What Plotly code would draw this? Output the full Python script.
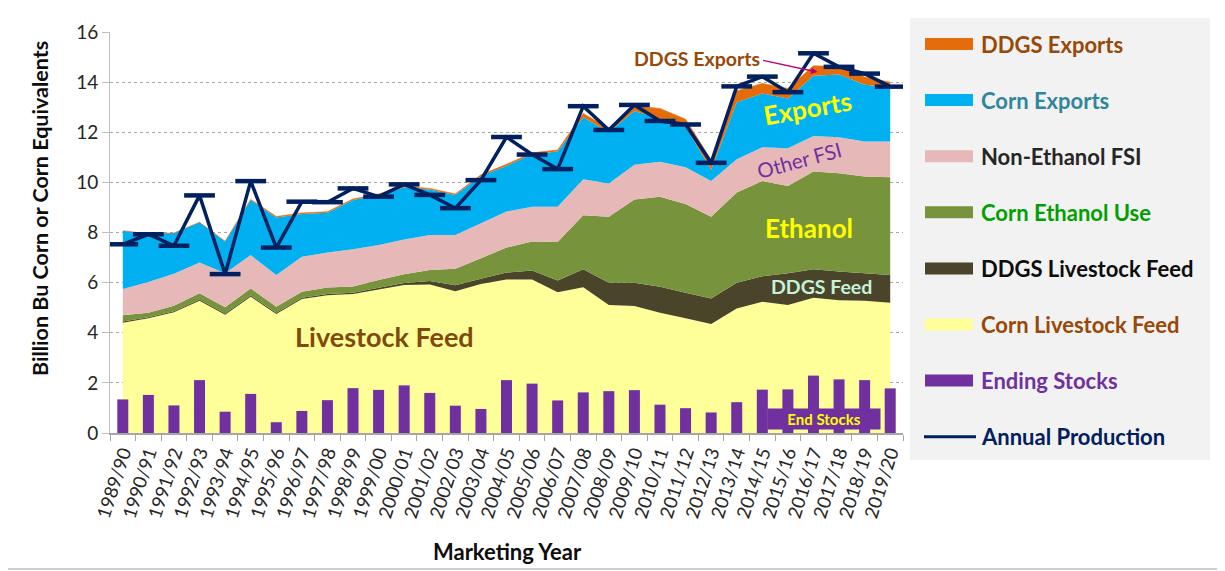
import plotly.graph_objects as go

# marketing years
years = ['1989/90', '1990/91', '1991/92', '1992/93', '1993/94', '1994/95', '1995/96',
         '1996/97', '1997/98', '1998/99', '1999/00', '2000/01', '2001/02', '2002/03',
         '2003/04', '2004/05', '2005/06', '2006/07', '2007/08', '2008/09', '2009/10',
         '2010/11', '2011/12', '2012/13', '2013/14', '2014/15', '2015/16', '2016/17',
         '2017/18', '2018/19', '2019/20']

# billion bushels corn or corn equivalents
corn_feed = [4.40, 4.58, 4.82, 5.28, 4.72, 5.44, 4.75, 5.35, 5.50, 5.55, 5.73, 5.91, 5.93, 5.66,
             5.95, 6.12, 6.12, 5.62, 5.82, 5.11, 5.07, 4.80, 4.58, 4.35, 4.97, 5.24, 5.11, 5.40,
             5.30, 5.28, 5.20]
ddgs_feed = [0.05, 0.04, 0.04, 0.05, 0.05, 0.05, 0.05, 0.05, 0.05, 0.05, 0.07, 0.08, 0.13, 0.24,
             0.20, 0.28, 0.36, 0.46, 0.71, 0.89, 0.93, 1.04, 1.02, 1.02, 1.03, 1.01, 1.26, 1.13,
             1.14, 1.09, 1.10]
ethanol = [0.25, 0.18, 0.22, 0.25, 0.25, 0.28, 0.24, 0.24, 0.26, 0.25, 0.30, 0.34, 0.44, 0.65,
           0.82, 1.00, 1.16, 1.54, 2.16, 2.63, 3.32, 3.59, 3.54, 3.26, 3.60, 3.80, 3.49, 3.90,
           3.92, 3.86, 3.90]
other_fsi = [1.05, 1.22, 1.27, 1.22, 1.35, 1.33, 1.26, 1.39, 1.39, 1.48, 1.40, 1.39, 1.40, 1.35,
             1.40, 1.44, 1.39, 1.41, 1.43, 1.33, 1.38, 1.39, 1.46, 1.42, 1.32, 1.35, 1.50, 1.42,
             1.44, 1.40, 1.43]
corn_exports = [2.32, 1.93, 1.63, 1.61, 1.27, 2.20, 2.30, 1.71, 1.59, 1.97, 2.00, 2.08, 1.82, 1.60,
                1.88, 1.81, 2.10, 2.20, 2.48, 2.04, 2.15, 1.70, 1.62, 0.45, 2.28, 2.15, 1.99, 2.40,
                2.50, 2.27, 2.17]
ddgs_exports = [0.00, 0.00, 0.00, 0.00, 0.01, 0.02, 0.04, 0.04, 0.04, 0.04, 0.04, 0.04, 0.04, 0.04,
                0.05, 0.07, 0.05, 0.06, 0.15, 0.16, 0.20, 0.43, 0.30, 0.40, 0.45, 0.40, 0.40, 0.40,
                0.32, 0.30, 0.20]
ending_stocks = [1.34, 1.52, 1.10, 2.11, 0.85, 1.56, 0.43, 0.88, 1.31, 1.79, 1.72, 1.90, 1.60, 1.09,
                 0.96, 2.11, 1.97, 1.30, 1.62, 1.67, 1.71, 1.13, 0.99, 0.82, 1.23, 1.73, 1.74, 2.29,
                 2.14, 2.11, 1.78]
production = [7.53, 7.93, 7.47, 9.48, 6.34, 10.05, 7.40, 9.23, 9.21, 9.76, 9.43, 9.92, 9.50, 8.97,
              10.09, 11.81, 11.11, 10.53, 13.04, 12.09, 13.09, 12.45, 12.31, 10.78, 13.83, 14.22,
              13.60, 15.15, 14.61, 14.34, 13.82]

OFF = 8  # page body margin
W, H = 1225 - OFF, 571 - OFF
L, R, T, B = 110, 903, 32, 433  # plot area in window pixels


def px(x, y):
    # window pixel position -> paper coords
    return (x - L) / (R - L), (B - y) / (B - T)


fig = go.Figure()

areas = [
    ('Corn Livestock Feed', corn_feed, '#FFFF99'),
    ('DDGS Livestock Feed', ddgs_feed, '#4A452A'),
    ('Corn Ethanol Use', ethanol, '#77933C'),
    ('Non-Ethanol FSI', other_fsi, '#E6B9B8'),
    ('Corn Exports', corn_exports, '#00B0F0'),
    ('DDGS Exports', ddgs_exports, '#E46C0A'),
]
for name, vals, col in areas:
    fig.add_trace(go.Scatter(x=years, y=vals, name=name, mode='lines',
                             stackgroup='use', fillcolor=col,
                             line=dict(width=0.6 if name == 'DDGS Exports' else 0, color=col)))

# bars and production on an overlaid axis so they sit on top of the areas
fig.add_trace(go.Bar(x=years, y=ending_stocks, name='Ending Stocks', yaxis='y2',
                     marker=dict(color='#7030A0', line=dict(width=0)), width=0.43))

fig.add_trace(go.Scatter(x=years, y=production, name='Annual Production', mode='lines+markers',
                         yaxis='y2', line=dict(color='#002060', width=3.5),
                         marker=dict(symbol='line-ew', size=22,
                                     line=dict(color='#002060', width=4.5))))

fig.update_layout(
    width=W, height=H,
    margin=dict(l=L - OFF, r=W - (R - OFF), t=T - OFF, b=H - (B - OFF)),
    paper_bgcolor='white', plot_bgcolor='white',
    showlegend=False,
    font=dict(family='Lato', color='#262626'),
    yaxis2=dict(overlaying='y', range=[0, 16], visible=False),
)
fig.update_xaxes(type='category', tickangle=-72, tickfont=dict(size=18.5, family='Lato', color='#262626'),
                 showline=True, linecolor='#A6A6A6', linewidth=1.5,
                 ticks='outside', tickson='boundaries', ticklen=6, tickcolor='#A6A6A6',
                 showgrid=False, range=[-0.5, 30.5], automargin=False)
fig.update_yaxes(selector=dict(overlaying=None), range=[0, 16], dtick=2,
                 tickfont=dict(size=19, family='Lato', color='#262626'),
                 showgrid=True, gridcolor='#A6A6A6', griddash='dot', gridwidth=1,
                 showline=True, linecolor='#BFBFBF', linewidth=1,
                 ticks='outside', ticklen=7, tickcolor='#BFBFBF', zeroline=False)

shapes = []
anns = []

# axis titles
x0, y0 = px(40, 209)
anns.append(dict(x=x0, y=y0, xref='paper', yref='paper', xanchor='center', yanchor='middle',
                 text='<b>Billion Bu Corn or Corn Equivalents</b>',
                 textangle=-90, showarrow=False, font=dict(size=21.5, color='#0D0D0D', family='Lato')))
x0, y0 = px(507, 551)
anns.append(dict(x=x0, y=y0, xref='paper', yref='paper', xanchor='center', yanchor='middle',
                 text='<b>Marketing Year</b>',
                 showarrow=False, font=dict(size=22, color='#0D0D0D', family='Lato')))

# in-plot labels
anns += [
    dict(x=10.24, y=3.87, text='<b>Livestock Feed</b>', showarrow=False,
         font=dict(size=27, color='#7F4A0F', family='Lato')),
    dict(x=27.3, y=5.83, text='<b>DDGS Feed</b>', showarrow=False,
         font=dict(size=19.5, color='#C6F2DA', family='Lato')),
    dict(x=26.84, y=8.18, text='<b>Ethanol</b>', showarrow=False,
         font=dict(size=26, color='#FFFF00', family='Lato')),
    dict(x=26.45, y=10.9, text='Other FSI', textangle=-15, showarrow=False,
         font=dict(size=20.5, color='#7030A0', family='Lato')),
    dict(x=26.77, y=12.97, text='<b>Exports</b>', textangle=-10, showarrow=False,
         font=dict(size=26, color='#FFFF00', family='Lato')),
    dict(x=22.43, y=14.96, text='<b>DDGS Exports</b>', showarrow=False,
         font=dict(size=19.5, color='#984807', family='Lato')),
    dict(x=27.16, y=14.4, text='', showarrow=True, arrowhead=2, arrowsize=1, arrowwidth=1.3,
         arrowcolor='#C0006F', ax=-56, ay=-12),
    dict(x=27.43, y=0.56, text='<b>End Stocks</b>', showarrow=False, bgcolor='#7030A0',
         borderpad=1, width=110, font=dict(size=15, color='#FFFF00', family='Lato')),
]

# legend panel
lx0, ly0 = px(910, 18)
lx1, ly1 = px(1210, 460)
shapes.append(dict(type='rect', xref='paper', yref='paper', x0=lx0, y0=ly0, x1=lx1, y1=ly1,
                   fillcolor='#F2F2F2', line=dict(width=0), layer='below'))

legend_items = [
    ('DDGS Exports', '#984807', '#E46C0A'),
    ('Corn Exports', '#31859C', '#00B0F0'),
    ('Non-Ethanol FSI', '#262626', '#E6B9B8'),
    ('Corn Ethanol Use', '#00A000', '#77933C'),
    ('DDGS Livestock Feed', '#0D0D0D', '#4A452A'),
    ('Corn Livestock Feed', '#984807', '#FFFF99'),
    ('Ending Stocks', '#7030A0', '#7030A0'),
    ('Annual Production', '#002060', None),
]
for k, (txt, tcol, scol) in enumerate(legend_items):
    cy = 44 + k * 56.1
    if scol:
        a0, b0 = px(925, cy - 6)
        a1, b1 = px(973, cy + 6)
        shapes.append(dict(type='rect', xref='paper', yref='paper', x0=a0, y0=b0, x1=a1, y1=b1,
                           fillcolor=scol, line=dict(width=0)))
    else:
        a0, b0 = px(924, cy)
        a1, _ = px(976, cy)
        shapes.append(dict(type='line', xref='paper', yref='paper', x0=a0, y0=b0, x1=a1, y1=b0,
                           line=dict(color='#002060', width=3)))
    tx, ty = px(979, cy)
    anns.append(dict(x=tx, y=ty, xref='paper', yref='paper', xanchor='left', yanchor='middle',
                     text='<b>' + txt + '</b>', showarrow=False,
                     font=dict(size=22, color=tcol, family='Lato')))

# outer frame bottom edge
bx0, by = px(0, 569)
bx1, _ = px(1225, 569)
shapes.append(dict(type='line', xref='paper', yref='paper', x0=bx0, y0=by, x1=bx1, y1=by,
                   line=dict(color='#BFBFBF', width=1.5)))

fig.update_layout(shapes=shapes, annotations=anns)
fig.write_html('out.html')
